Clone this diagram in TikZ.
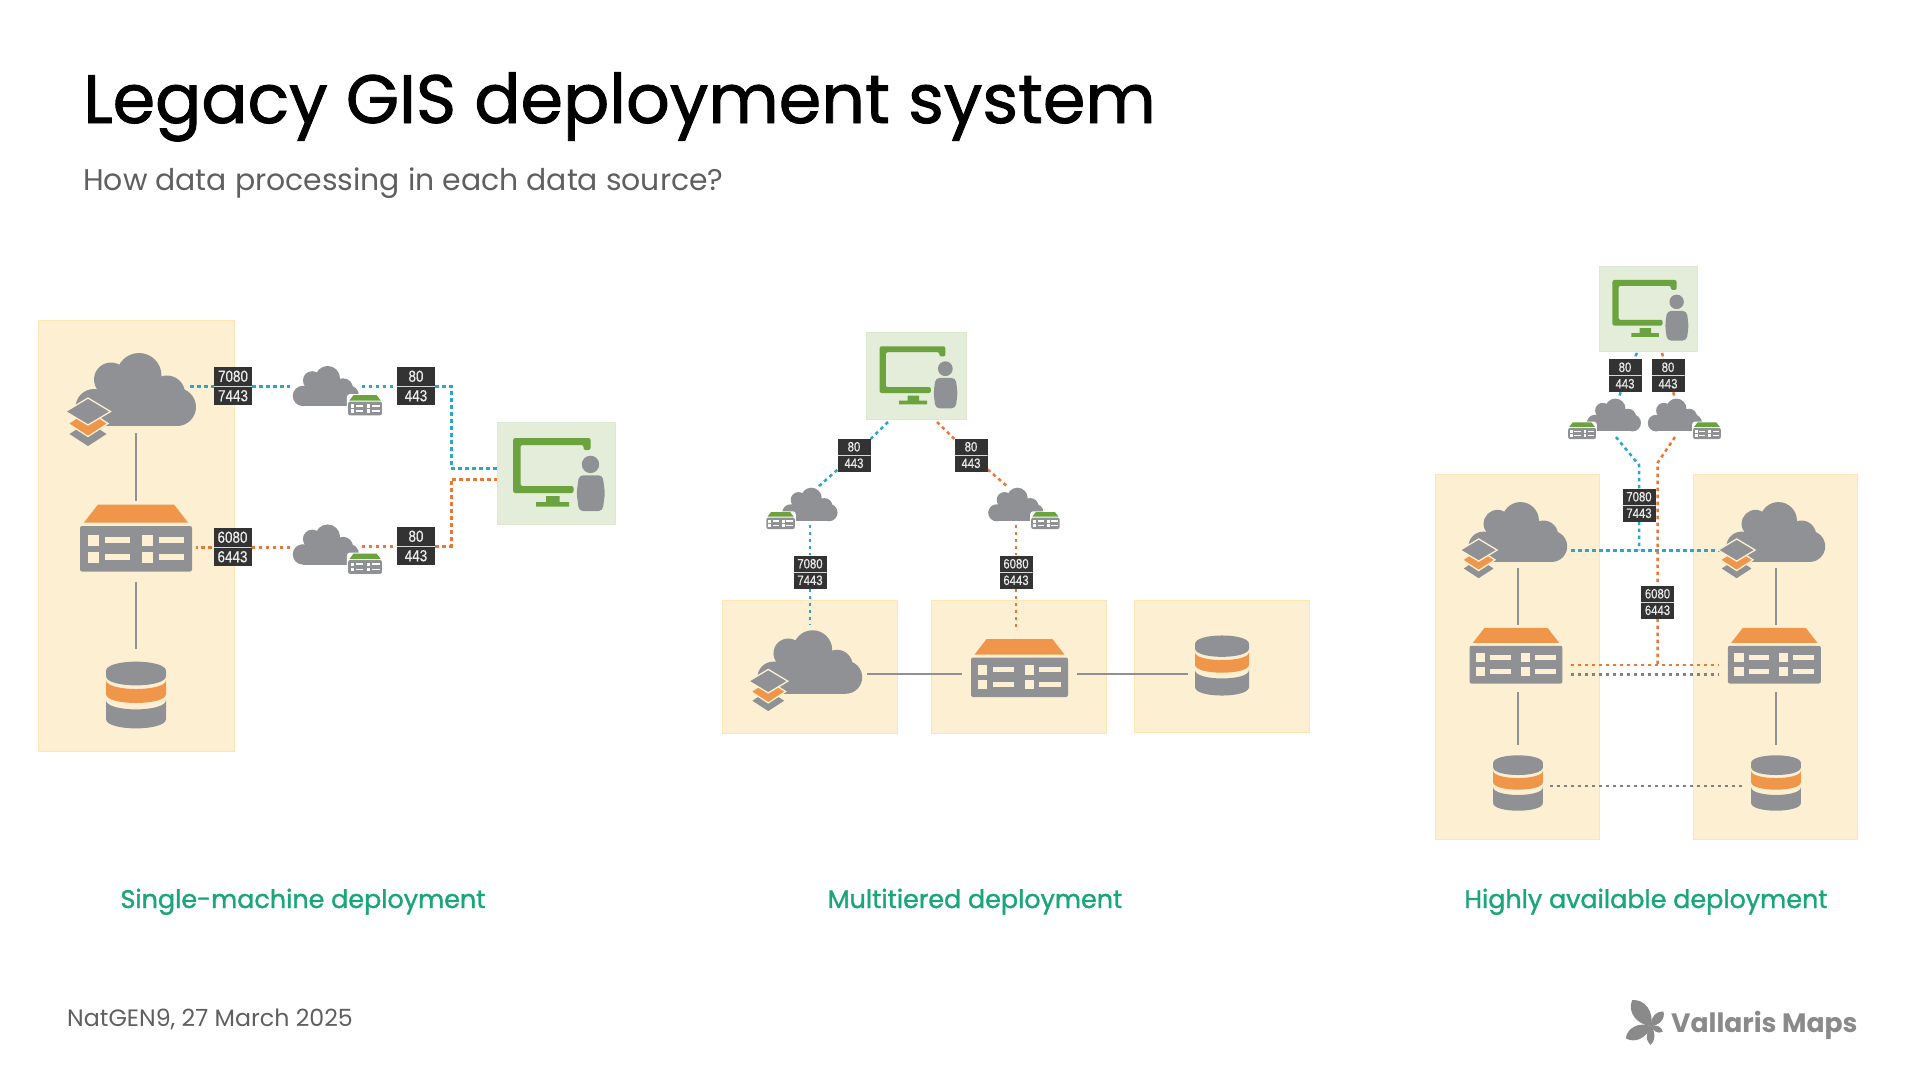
\documentclass[tikz,border=0pt]{standalone}
\usepackage{fontspec}
\usetikzlibrary{backgrounds}
\setmainfont{Poppins}
\newfontfamily\titlefont[FakeBold=1.3]{Poppins}
\newfontfamily\capfont[FakeBold=1.3]{Poppins}
\newfontfamily\portfont[FakeStretch=0.84,FakeBold=0.5]{Liberation Sans}
\definecolor{PanelCream}{HTML}{FDF0D2}
\definecolor{PanelEdge}{HTML}{FBE6B4}
\definecolor{UserBox}{HTML}{E4EDDA}
\definecolor{UserEdge}{HTML}{DCE8CF}
\definecolor{MonitorGreen}{HTML}{6BA33E}
\definecolor{IconGray}{HTML}{8F9194}
\definecolor{RoofOrange}{HTML}{F0964A}
\definecolor{WireBlue}{HTML}{2BA6CB}
\definecolor{WireOrange}{HTML}{E8783A}
\definecolor{WireGray}{HTML}{7F8285}
\definecolor{PortDark}{HTML}{333333}
\definecolor{CapGreen}{HTML}{1BA57B}
\definecolor{SubGray}{HTML}{5F5F5F}
\definecolor{LogoGray}{HTML}{8A8A8A}
\newcommand{\cloudfill}{\fill[IconGray] (3,-14) circle (22.5) (-25,-10) circle (17) (31,4) circle (18)
    (41,17.5) circle (19) (-42,18) circle (18.5);
  \fill[IconGray] (-42,0) rectangle (41,36.5);}
\newcommand{\rackfill}[2]{\fill[#2,rounded corners=3] (-60,-37) rectangle (60,37);
  \fill[#1] (-38,-33.5) -- (38,-33.5) -- (52,-15.5) -- (-52,-15.5) -- cycle;
  \fill[IconGray,rounded corners=2] (-56,-12) rectangle (56,33.5);
  \foreach \y in {2,19}{\foreach \x in {-48,6}{
    \fill[#2] (\x,\y-5.5) rectangle ++(11,11);
    \fill[#2] (\x+17,\y-3) rectangle ++(25,6);}}}
\tikzset{
  hit/.style={inner sep=0,transform shape},
  pics/rack/.style={code={
    \rackfill{RoofOrange}{PanelCream}
    \node[hit,minimum width=132,minimum height=77] (-b) at (0,5) {};}},
  pics/gis/.style={code={
    \cloudfill
    \begin{scope}[shift={(-48,33)},draw=PanelCream,line width=1.3]
      \filldraw[fill=IconGray] (0,-1.5) -- (20,11.5) -- (0,24.5) -- (-20,11.5) -- cycle;
      \filldraw[fill=RoofOrange] (0,-12) -- (20,1) -- (0,14) -- (-20,1) -- cycle;
      \filldraw[fill=IconGray] (0,-24.5) -- (22.5,-11) -- (0,2.5) -- (-22.5,-11) -- cycle;
    \end{scope}
    \node[hit,minimum width=130,minimum height=87] (-b) {};}},
  pics/web/.style={code={
    \cloudfill
    \begin{scope}[shift={(#1*71,35)},scale=.55]
      \rackfill{MonitorGreen}{white}
    \end{scope}
    \node[hit,minimum width=130,minimum height=87] (-b) {};}},
  pics/store/.style={code={
    \fill[IconGray] (-30,-24) .. controls (-30,-36.5) and (30,-36.5) .. (30,-24) -- (30,-19)
      .. controls (30,-6.5) and (-30,-6.5) .. (-30,-19) -- cycle;
    \fill[RoofOrange] (-30,-15) .. controls (-30,-3) and (30,-3) .. (30,-15) -- (30,-1)
      .. controls (30,11) and (-30,11) .. (-30,-1) -- cycle;
    \fill[IconGray] (-30,5) .. controls (-30,17.5) and (30,17.5) .. (30,5) -- (30,24)
      .. controls (30,36.5) and (-30,36.5) .. (-30,24) -- cycle;
    \node[hit,minimum width=76,minimum height=92] (-b) {};}},
  pics/user/.style={code={
    \node[hit,fill=UserBox,draw=UserEdge,minimum width=118,minimum height=102] (-b) {};
    \fill[MonitorGreen,rounded corners=2] (34.5,-23) -- (34.5,-35) -- (-42.8,-35) -- (-42.8,20)
      -- (17.5,20) -- (17.5,13) -- (-35.5,13) -- (-35.5,-28) -- (27.5,-28) -- (27.5,-23) -- cycle;
    \fill[MonitorGreen] (-10,23) rectangle (3.6,29) (-20,29) rectangle (13,33.5);
    \fill[IconGray] (34.5,-8.6) circle (8.7);
    \fill[IconGray,rounded corners=4] (23,38) -- (20.6,20) -- (23,2.3) -- (46.6,2.3)
      -- (49,20) -- (46.6,38) -- cycle;}}
}
\begin{document}
\begin{tikzpicture}[x=1pt,y=-1pt,
    panel/.style={fill=PanelCream,draw=PanelEdge,line width=1,inner sep=0},
    portbox/.style={fill=PortDark,text=white!92!black,inner sep=0,align=center,minimum size=#1,
      path picture={\draw[white!85!black,line width=.9] (path picture bounding box.west) -- (path picture bounding box.east);}},
    portL/.style={portbox=38,font=\portfont\fontsize{16}{19.5}\selectfont},
    portS/.style={portbox=33,font=\portfont\fontsize{13.5}{16.5}\selectfont},
    wire/.style={line width=3,dash pattern=on 3.5pt off 3.5pt},
    thinwire/.style={line width=2.5},
    bluewire/.style={wire,WireBlue},
    orangewire/.style={wire,WireOrange},
    graywire/.style={wire,WireGray,thinwire},
    solidline/.style={IconGray,line width=2.2},
    caption/.style={anchor=base,text=CapGreen,font=\capfont\fontsize{25.4}{30}\selectfont}]
  \useasboundingbox (0,0) rectangle (1920,1080);

  % headings
  \node[anchor=base west,inner sep=0,font=\titlefont\fontsize{68.4}{70}\selectfont] (heading) at (83,123) {Legacy GIS deployment system};
  \node[anchor=base west,inner sep=0,text=SubGray,font=\fontsize{29.9}{32}\selectfont] (subheading) at (83,190) {How data processing in each data source?};

  % panels
  \begin{scope}[on background layer]
    \node[panel,minimum width=196,minimum height=431] (panelA) at (136,535.5) {};
    \node[panel,minimum width=175,minimum height=133] (panelB) at (810,666.5) {};
    \node[panel,minimum width=175,minimum height=133] (panelC) at (1019,666.5) {};
    \node[panel,minimum width=175,minimum height=132] (panelD) at (1222,666) {};
    \node[panel,minimum width=164,minimum height=365] (panelE) at (1517,656.5) {};
    \node[panel,minimum width=164,minimum height=365] (panelF) at (1775.5,656.5) {};
  \end{scope}

  % single machine
  \pic (gisA) at (136,389.5) {gis};
  \pic (rackA) at (136,538) {rack};
  \pic (dataA) at (136,695) {store};
  \pic[scale=.55] (webA) at (326,386) {web=1};
  \pic[scale=.55] (webB) at (326,544.5) {web=1};
  \pic (userA) at (556,473) {user};
  \node[portL] (portA) at (233,386) {7080\\7443};
  \node[portL] (portB) at (416,386) {80\\443};
  \node[portL] (portC) at (232.5,547) {6080\\6443};
  \node[portL] (portD) at (416,546) {80\\443};
  \coordinate (elbowA) at (451,468);
  \coordinate (elbowB) at (451,479);

  % multitiered
  \pic[scale=.87] (gisB) at (810,662) {gis};
  \pic[scale=.866] (rackB) at (1019.5,668) {rack};
  \pic[scale=.9] (dataB) at (1222,665.5) {store};
  \pic[scale=.46] (webC) at (810,504.5) {web=-.9};
  \pic[scale=.46] (webD) at (1016,504.5) {web=.9};
  \pic[scale=.85] (userB) at (916,376) {user};
  \node[portS] (portE) at (854,455) {80\\443};
  \node[portS] (portF) at (971,455) {80\\443};
  \node[portS] (portG) at (810,572) {7080\\7443};
  \node[portS] (portH) at (1016,572) {6080\\6443};
  \coordinate (tapA) at (888,422);
  \coordinate (tapB) at (818,487);
  \coordinate (tapC) at (937,422);
  \coordinate (tapD) at (1008,487);
  \coordinate (rowM) at (900,674.3);

  % highly available
  \pic[scale=.82] (gisC) at (1518,532) {gis};
  \pic[scale=.82] (gisD) at (1776,532) {gis};
  \pic[scale=.83] (rackC) at (1516,655.7) {rack};
  \pic[scale=.83] (rackD) at (1774.3,655.7) {rack};
  \pic[scale=.83] (dataC) at (1518,783) {store};
  \pic[scale=.83] (dataD) at (1776,783) {store};
  \pic[scale=.45] (webE) at (1614,415) {web=-1};
  \pic[scale=.45] (webF) at (1675,415) {web=1};
  \pic[scale=.83] (userC) at (1648,309) {user};
  \node[portS] (portI) at (1625,375.5) {80\\443};
  \node[portS] (portJ) at (1668,375.5) {80\\443};
  \node[portS] (portK) at (1639,505) {7080\\7443};
  \node[portS] (portL) at (1657.5,602) {6080\\6443};
  \coordinate (tapE) at (1637,353);
  \coordinate (tapF) at (1619,398);
  \coordinate (tapG) at (1662,353);
  \coordinate (tapH) at (1675,398);
  \coordinate (tapI) at (1616,437);
  \coordinate (tapJ) at (1639,465);
  \coordinate (tapK) at (1675,437);
  \coordinate (tapL) at (1657.5,463);
  \coordinate (rowA) at (1600,550.4);
  \coordinate (rowB) at (1600,665);
  \coordinate (rowC) at (1600,674.7);
  \coordinate (rowD) at (1600,786);

  \begin{scope}[on background layer]
    \draw[bluewire] ([xshift=-11pt]gisA-b.east |- portA) -- (portA) -- (webA-b.west |- portA);
    \draw[bluewire] (webA-b.east |- portB) -- (portB) -| (elbowA) -- (userA-b.west |- elbowA);
    \draw[orangewire] ([xshift=-8pt]rackA-b.east |- portC) -- (portC) -- (webB-b.west |- portC);
    \draw[orangewire] (webB-b.east |- portD) -- (portD) -| (elbowB) -- (userA-b.west |- elbowB);
    \draw[solidline] (gisA-b.south) -- (rackA-b.north);
    \draw[solidline] (rackA-b.south) -- (dataA-b.north);

    \draw[bluewire,thinwire] (tapA) -- (portE) -- (tapB);
    \draw[orangewire,thinwire] (tapC) -- (portF) -- (tapD);
    \draw[bluewire,thinwire] (webC-b.south) -- (portG) -- (gisB-b.north);
    \draw[orangewire,thinwire] (webD-b.south) -- (portH) -- ([yshift=10pt]portH |- rackB-b.north);
    \draw[solidline] (gisB-b.east |- rowM) -- (rackB-b.west |- rowM);
    \draw[solidline] (rackB-b.east |- rowM) -- (dataB-b.west |- rowM);

    \draw[bluewire,thinwire] (tapE) -- (portI) -- (tapF);
    \draw[orangewire,thinwire] (tapG) -- (portJ) -- (tapH);
    \draw[bluewire,thinwire] (tapI) -- (tapJ) -- (portK) -- (portK |- rowA);
    \draw[bluewire,thinwire] (gisC-b.east |- rowA) -- (gisD-b.west |- rowA);
    \draw[orangewire,thinwire] (tapK) -- (tapL) -- (portL) -- (portL |- rowB);
    \draw[orangewire,thinwire] (rackC-b.east |- rowB) -- (rackD-b.west |- rowB);
    \draw[graywire] (rackC-b.east |- rowC) -- (rackD-b.west |- rowC);
    \draw[graywire] (dataC-b.east |- rowD) -- (dataD-b.west |- rowD);
    \draw[solidline] (gisC-b.south) -- (gisC-b.south |- rackC-b.north);
    \draw[solidline] (gisC-b.south |- rackC-b.south) -- (dataC-b.north);
    \draw[solidline] (gisD-b.south) -- (gisD-b.south |- rackD-b.north);
    \draw[solidline] (gisD-b.south |- rackD-b.south) -- (dataD-b.north);
  \end{scope}

  % captions
  \node[caption] (capA) at (303,908) {Single-machine deployment};
  \node[caption] (capB) at (975,908) {Multitiered deployment};
  \node[caption] (capC) at (1646,908) {Highly available deployment};

  % footer
  \node[anchor=base west,inner sep=0,text=SubGray,font=\fontsize{23.7}{26}\selectfont] (footer) at (67,1026) {NatGEN9, 27 March 2025};
  \foreach \ang/\len/\wid in {126/32/11,49/19/6,206/28/9,334/13/4,268/19/5}{
    \fill[LogoGray,shift={(1651,1026)},rotate=\ang] (0,0) .. controls (.3*\len,\wid) and (.8*\len,\wid) .. (\len,0)
      .. controls (.8*\len,-\wid) and (.3*\len,-\wid) .. (0,0);}
  \node[anchor=base west,inner sep=0,text=LogoGray,font=\bfseries\fontsize{26.6}{30}\selectfont] (logo) at (1671,1032) {Vallaris Maps};
\end{tikzpicture}
\end{document}
